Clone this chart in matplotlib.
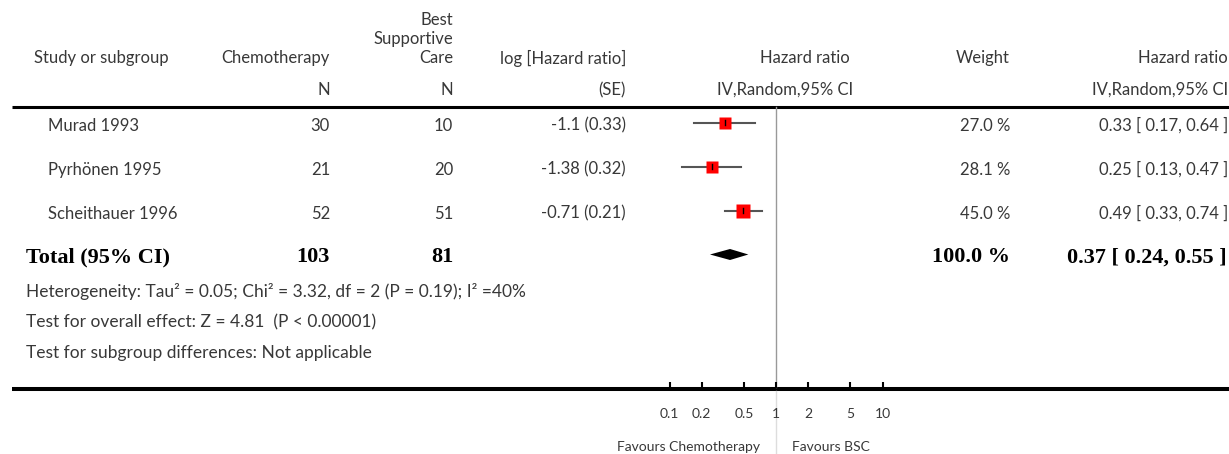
import numpy as np
import matplotlib
matplotlib.use("Agg")
import matplotlib.pyplot as plt

W_PX, H_PX = 1229, 454
DPI = 100

# data
studies = ["Murad 1993", "Pyrhönen 1995", "Scheithauer 1996"]
n_chemo = [30, 21, 52]
n_bsc = [10, 20, 51]
log_hr_se = ["-1.1 (0.33)", "-1.38 (0.32)", "-0.71 (0.21)"]
hr = [0.33, 0.25, 0.49]
ci_low = [0.17, 0.13, 0.33]
ci_high = [0.64, 0.47, 0.74]
weights = [27.0, 28.1, 45.0]

total_n_chemo = 103
total_n_bsc = 81
total_hr = 0.37
total_low = 0.24
total_high = 0.55

axis_ticks = [0.1, 0.2, 0.5, 1, 2, 5, 10]
footer_lines = [
    "Heterogeneity: Tau² = 0.05; Chi² = 3.32, df = 2 (P = 0.19); I² =40%",
    "Test for overall effect: Z = 4.81  (P < 0.00001)",
    "Test for subgroup differences: Not applicable",
]

# layout (pixels)
FONT = "Lato"
FS = 12
ROW_Y = [122.7, 166.7, 210.7]
TOTAL_Y = 254.5
X_ONE = 776
DECADE = 106.5

fig = plt.figure(figsize=(W_PX / DPI, H_PX / DPI), dpi=DPI)
ax = fig.add_axes([0, 0, 1, 1])
ax.set_xlim(0, W_PX)
ax.set_ylim(H_PX, 0)
ax.axis("off")

# forest axes, log scale lined up with the pixel layout
fx = fig.add_axes([0, 0, 1, 1])
fx.set_xscale("log")
fx.set_xlim(10 ** (-X_ONE / DECADE), 10 ** ((W_PX - X_ONE) / DECADE))
fx.set_ylim(H_PX, 0)
fx.axis("off")
fx.patch.set_alpha(0)


def txt(x, y, s, ha="left", **kw):
    kw.setdefault("fontsize", FS)
    kw.setdefault("family", FONT)
    kw.setdefault("color", "#383838")
    ax.text(x, y, s, ha=ha, va="center", **kw)


# header
txt(34, 58, "Study or subgroup")
txt(330, 58, "Chemotherapy", ha="right")
txt(330, 90, "N", ha="right")
txt(453, 20, "Best", ha="right")
txt(453, 39, "Supportive", ha="right")
txt(453, 58, "Care", ha="right")
txt(453, 90, "N", ha="right")
txt(626, 58, "log [Hazard ratio]", ha="right")
txt(626, 90, "(SE)", ha="right")
txt(850, 58, "Hazard ratio", ha="right")
txt(853, 90, "IV,Random,95% CI", ha="right")
txt(1010, 58, "Weight", ha="right")
txt(1228, 58, "Hazard ratio", ha="right")
txt(1228, 90, "IV,Random,95% CI", ha="right")

ax.plot([12, W_PX], [106.5, 106.5], color="black", lw=2.2, solid_capstyle="butt")
ax.plot([12, W_PX], [389, 389], color="black", lw=2.9, solid_capstyle="butt")

# study rows
for i, y in enumerate(ROW_Y):
    ty = y + 3
    txt(48, ty, studies[i])
    txt(330, ty, str(n_chemo[i]), ha="right")
    txt(453, ty, str(n_bsc[i]), ha="right")
    txt(626, ty, log_hr_se[i], ha="right")
    txt(1010, ty, f"{weights[i]:.1f} %", ha="right")
    txt(1228, ty, f"{hr[i]:.2f} [ {ci_low[i]:.2f}, {ci_high[i]:.2f} ]", ha="right")

    fx.plot([ci_low[i], ci_high[i]], [y, y], color="#555555", lw=1.5, zorder=2)
    size = 5.8 + weights[i] * 0.08
    fx.plot(hr[i], y, marker="s", ms=size, color="#ff0000", mec="none", zorder=3)
    fx.plot([hr[i], hr[i]], [y - 2.5, y + 2.5], color="black", lw=1, zorder=4)

# total row
bold = dict(family="Liberation Serif", fontweight="bold", fontsize=16, color="black")
txt(26, TOTAL_Y + 3, "Total (95% CI)", **bold)
txt(330, TOTAL_Y + 3, str(total_n_chemo), ha="right", **bold)
txt(453, TOTAL_Y + 3, str(total_n_bsc), ha="right", **bold)
txt(1010, TOTAL_Y + 3, "100.0 %", ha="right", **bold)
txt(1227, TOTAL_Y + 3, f"{total_hr:.2f} [ {total_low:.2f}, {total_high:.2f} ]", ha="right", **bold)

half = 5.5
fx.fill([total_low, total_hr, total_high, total_hr],
        [TOTAL_Y, TOTAL_Y - half, TOTAL_Y, TOTAL_Y + half],
        color="black", lw=0, zorder=3)

# footer notes
for k, line in enumerate(footer_lines):
    txt(26, 291 + 31 * k, line, fontsize=12.5)

# line of no effect
fx.plot([1, 1], [107, 387], color="#999999", lw=1, zorder=1)
fx.plot([1, 1], [391, H_PX], color="#dddddd", lw=1, zorder=1)

# axis ticks and labels
for t in axis_ticks:
    fx.plot([t, t], [382, 388], color="black", lw=1.5, solid_capstyle="butt")
    fx.text(t, 414, f"{t:g}", ha="center", va="center", family=FONT,
            fontsize=10, color="#383838")

txt(760, 447, "Favours Chemotherapy", ha="right", fontsize=10)
txt(792, 447, "Favours BSC", fontsize=10)

fig.savefig("out.png", dpi=DPI)
